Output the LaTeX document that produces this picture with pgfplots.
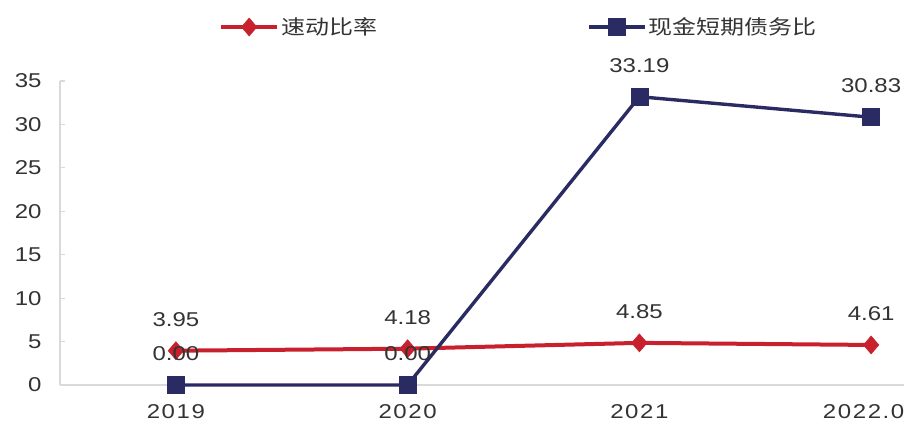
\documentclass[border=0pt]{standalone}
\usepackage{pgfplots}
\pgfplotsset{compat=1.18}
\usepackage{fontspec}
\setmainfont{Liberation Sans}[FakeStretch=1.2]
\newfontfamily\cjk{Noto Sans CJK SC}[FakeStretch=1.2]
\newfontfamily\spaced{Liberation Sans}[FakeStretch=1.2, LetterSpace=8]
\definecolor{myred}{RGB}{200,32,44}
\definecolor{mynavy}{RGB}{43,43,99}
\definecolor{axgray}{RGB}{217,217,217}
\definecolor{txt}{RGB}{51,51,51}
\begin{document}
\begin{tikzpicture}
\begin{axis}[
  at={(60pt,35pt)}, anchor=south west,
  scale only axis, width=927pt, height=304pt,
  xmin=-0.5, xmax=3.5, ymin=0, ymax=35,
  xtick={0,1,2,3}, xticklabels={2019,2020,2021,2022.09},
  ytick={0,5,...,35},
  axis x line*=bottom, axis y line*=left,
  axis line style={axgray, line width=1.5pt, -},
  tick align=inside, major tick length=5pt,
  ytick style={axgray, line width=1.2pt},
  xtick style={draw=none},
  tick label style={font=\fontsize{20}{24}\selectfont, text=txt},
  /pgf/number format/assume math mode=true,
  yticklabel style={xshift=-15pt},
  xticklabel style={yshift=-16pt, font=\fontsize{20}{24}\spaced},
  clip=false,
  nodes near coords={\pgfmathprintnumber[fixed,fixed zerofill,precision=2]{\pgfplotspointmeta}},
  every node near coord/.append style={font=\fontsize{20}{24}\selectfont, text=txt, anchor=south, inner sep=0pt, yshift=24pt},
  legend columns=2,
  legend style={at={(0.1715,1.1776)}, anchor=west, draw=none, fill=none,
    font=\fontsize{20}{24}\cjk, text=txt, inner sep=0pt, nodes={inner sep=2pt},
    /tikz/every even column/.append style={column sep=208pt}},
  legend image code/.code={\draw[mark repeat=2,mark phase=2,#1] plot coordinates {(0pt,0pt) (28pt,0pt) (56pt,0pt)};},
]
\addplot[myred, line width=4pt, mark=diamond*, mark size=9pt, mark options={solid, fill=myred, line width=0.5pt, xscale=1.15}]
  coordinates {(0,3.95) (1,4.18) (2,4.85) (3,4.61)};
\addlegendentry{速动比率}
\addplot[mynavy, line width=3.4pt, mark=square*, mark size=8.5pt, mark options={solid, fill=mynavy, line width=0.5pt}]
  coordinates {(0,0) (1,0) (2,33.19) (3,30.83)};
\addlegendentry{现金短期债务比}
\end{axis}
\pgfresetboundingbox
\useasboundingbox (0,0) rectangle (904pt,420pt);
\end{tikzpicture}
\end{document}
